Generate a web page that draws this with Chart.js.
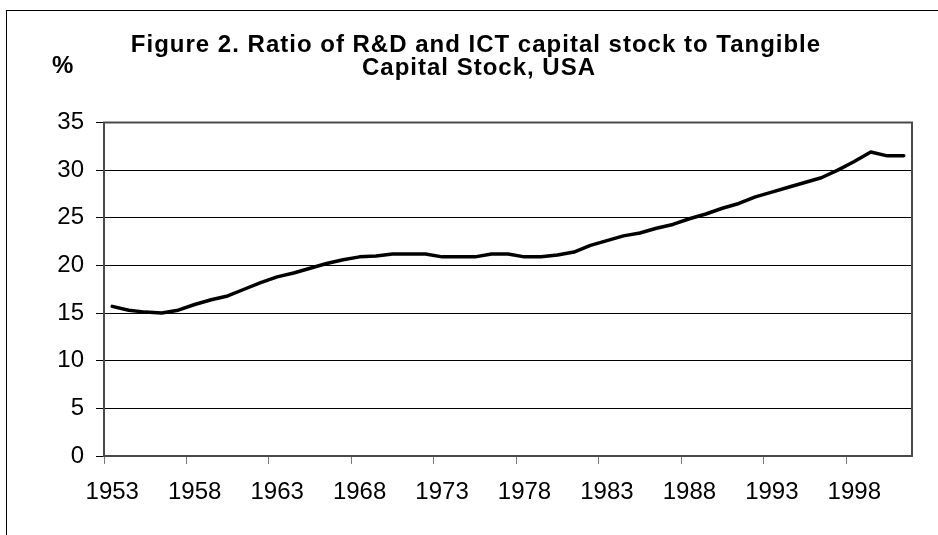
<!DOCTYPE html>
<html><head><meta charset="utf-8">
<script src="https://cdn.jsdelivr.net/npm/chart.js@4/dist/chart.umd.min.js"></script>
<style>
html,body{margin:0;padding:0;background:#fff;overflow:hidden;}
#wrap{position:relative;width:938px;height:535px;overflow:hidden;}
#frame{position:absolute;left:6px;top:10px;width:1000px;height:1000px;border:1px solid #000;}
canvas{position:absolute;left:0;top:0;}
</style></head><body>
<div id="wrap"><div id="frame"></div><canvas id="c" width="938" height="535"></canvas></div>
<script>
const years = ['1953','1954','1955','1956','1957','1958','1959','1960','1961','1962',
  '1963','1964','1965','1966','1967','1968','1969','1970','1971','1972',
  '1973','1974','1975','1976','1977','1978','1979','1980','1981','1982',
  '1983','1984','1985','1986','1987','1988','1989','1990','1991','1992',
  '1993','1994','1995','1996','1997','1998','1999','2000','2001'];
const ratio = [15.7,15.3,15.1,15.0,15.3,15.9,16.4,16.8,17.5,18.2,
  18.8,19.2,19.7,20.2,20.6,20.9,21.0,21.2,21.2,21.2,
  20.9,20.9,20.9,21.2,21.2,20.9,20.9,21.1,21.4,22.1,
  22.6,23.1,23.4,23.9,24.3,24.9,25.4,26.0,26.5,27.2,
  27.7,28.2,28.7,29.2,30.0,30.9,31.9,31.5,31.5];
const xTickLabels = ['1953','1958','1963','1968','1973','1978','1983','1988','1993','1998'];
const yTickValues = [0,5,10,15,20,25,30,35];
const titleLines = ['Figure 2. Ratio of R&D and ICT capital stock to Tangible','Capital Stock, USA'];
const unitLabel = '%';

const FONT = '"Liberation Sans", Arial, sans-serif';
const showX = (i) => xTickLabels.includes(years[i]);

const deco = {
  id: 'deco',
  beforeDatasetsDraw(chart) {
    const a = chart.chartArea, ctx = chart.ctx;
    ctx.save();
    ctx.strokeStyle = '#4a4a4a';
    ctx.lineWidth = 2;
    ctx.strokeRect(a.left, a.top, a.right - a.left, a.bottom - a.top);
    ctx.restore();
  },
  afterDraw(chart) {
    const ctx = chart.ctx;
    ctx.save();
    ctx.fillStyle = '#000';
    ctx.font = 'bold 24px ' + FONT;
    ctx.textBaseline = 'alphabetic';
    ctx.textAlign = 'center';
    try { ctx.letterSpacing = '1px'; } catch (e) {}
    ctx.fillText(titleLines[0], 476, 52);
    ctx.fillText(titleLines[1], 479, 75);
    try { ctx.letterSpacing = '0px'; } catch (e) {}
    ctx.textAlign = 'left';
    ctx.fillText(unitLabel, 52, 73);
    ctx.restore();
  }
};

new Chart(document.getElementById('c'), {
  type: 'line',
  data: {
    labels: years,
    datasets: [{
      data: ratio,
      borderColor: '#000',
      borderWidth: 3.5,
      pointRadius: 0,
      tension: 0,
      fill: false,
      borderJoinStyle: 'round',
      borderCapStyle: 'round'
    }]
  },
  options: {
    responsive: false,
    animation: false,
    devicePixelRatio: 1,
    layout: { padding: { left: 16, right: 26, top: 122.5, bottom: 0 } },
    plugins: { legend: { display: false }, title: { display: false }, tooltip: { enabled: false } },
    scales: {
      x: {
        type: 'category',
        offset: true,
        border: { display: false },
        grid: {
          offset: true,
          drawOnChartArea: false,
          drawTicks: true,
          tickLength: 8,
          lineWidth: 1,
          color: (c) => (c.index % 5 === 0 && c.index < years.length) ? '#777' : 'rgba(0,0,0,0)',
          tickColor: (c) => (c.index % 5 === 0 && c.index < years.length) ? '#777' : 'rgba(0,0,0,0)'
        },
        ticks: {
          autoSkip: false,
          maxRotation: 0,
          minRotation: 0,
          padding: 14,
          color: '#000',
          font: { family: FONT, size: 24 },
          callback: function (v, i) { return showX(i) ? years[i] : ''; }
        },
        afterFit: (s) => { s.height = 79; }
      },
      y: {
        min: 0,
        max: 35,
        border: { display: false },
        grid: { color: '#000', lineWidth: 1, tickLength: 8, tickColor: '#000' },
        afterBuildTicks: (s) => { s.ticks = yTickValues.map(v => ({ value: v })); },
        ticks: {
          padding: 12,
          color: '#000',
          font: { family: FONT, size: 24 }
        },
        afterFit: (s) => { s.width = 88; }
      }
    }
  },
  plugins: [deco]
});
</script>
</body></html>
